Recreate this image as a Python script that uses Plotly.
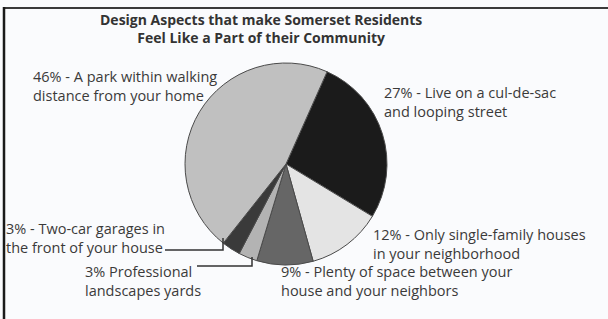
import plotly.graph_objects as go

W, H = 608, 319

categories = [
    "Live on a cul-de-sac and looping street",
    "Only single-family houses in your neighborhood",
    "Plenty of space between your house and your neighbors",
    "Professional landscapes yards",
    "Two-car garages in the front of your house",
    "A park within walking distance from your home",
]
values = [27, 12, 9, 3, 3, 46]
colors = ["#1b1b1b", "#e4e4e4", "#666666", "#b3b3b3", "#3a3a3a", "#c0c0c0"]

label_texts = [
    "27% - Live on a cul-de-sac<br>and looping street",
    "12% - Only single-family houses<br>in your neighborhood",
    "9% - Plenty of space between your<br>house and your neighbors",
    "3% Professional<br>landscapes yards",
    "3% - Two-car garages in<br>the front of your house",
    "46% - A park within walking<br>distance from your home",
]
# label anchor positions in pixels (left x, vertical centre y)
label_pos = [(382, 102), (371, 244), (279, 281), (83, 281), (4, 238), (31, 86)]

title_text = "Design Aspects that make Somerset Residents<br>Feel Like a Part of their Community"

# pie geometry in pixels
cx, cy, r = 286, 164, 101


def px(x):
    return x / W


def py(y):
    return 1 - y / H


fig = go.Figure(go.Pie(
    labels=categories,
    values=values,
    sort=False,
    direction="clockwise",
    rotation=24,
    marker=dict(colors=colors, line=dict(color="#4a4a4a", width=1)),
    textinfo="none",
    hoverinfo="label+percent",
    showlegend=False,
    domain=dict(x=[px(cx - r), px(cx + r)], y=[py(cy + r), py(cy - r)]),
))

font_family = "Open Sans, Lato, sans-serif"
annotations = [
    dict(text="<b>" + title_text + "</b>", x=px(261), y=py(28), xref="paper", yref="paper",
         xanchor="center", yanchor="middle", showarrow=False, align="center",
         font=dict(family=font_family, size=14, color="#333333"))
]
for t, (lx, ly) in zip(label_texts, label_pos):
    annotations.append(dict(text=t, x=px(lx), y=py(ly), xref="paper", yref="paper",
                            xanchor="left", yanchor="middle", showarrow=False, align="left",
                            font=dict(family=font_family, size=14.5, color="#3a3a3a")))

shapes = [
    # frame: top and left lines
    dict(type="line", xref="paper", yref="paper", x0=px(3), x1=1, y0=py(8), y1=py(8),
         line=dict(color="#3a3a3a", width=2)),
    dict(type="line", xref="paper", yref="paper", x0=px(4), x1=px(4), y0=py(7), y1=0,
         line=dict(color="#1a1a1a", width=2.5)),
    # leader: two-car garages
    dict(type="path", xref="paper", yref="paper",
         path=f"M {px(165)},{py(250)} L {px(223)},{py(250)} L {px(223)},{py(238)}",
         line=dict(color="#333333", width=1.5)),
    # leader: professional landscapes
    dict(type="path", xref="paper", yref="paper",
         path=f"M {px(197)},{py(266)} L {px(252)},{py(266)} L {px(252)},{py(257)}",
         line=dict(color="#333333", width=1.5)),
]

fig.update_layout(
    width=W, height=H,
    margin=dict(l=0, r=0, t=0, b=0),
    paper_bgcolor="#fafbfd",
    plot_bgcolor="#fafbfd",
    annotations=annotations,
    shapes=shapes,
)

fig.write_html("out.html", config={"displayModeBar": False},
               post_script="document.body.style.margin='0px';document.body.style.background='#fafbfd';")
